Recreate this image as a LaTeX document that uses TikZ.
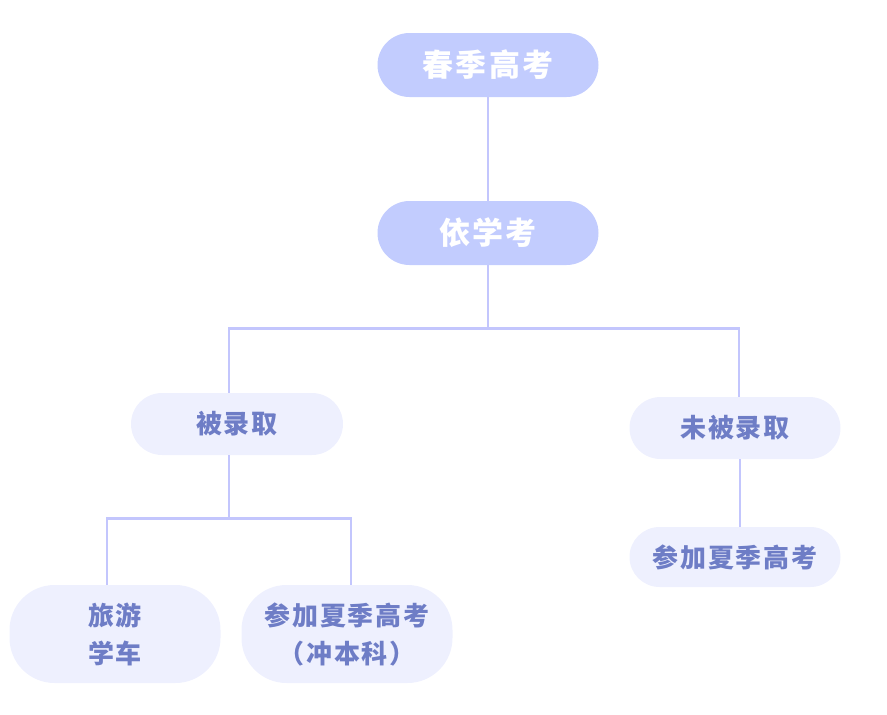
\documentclass[tikz,border=0pt]{standalone}
\usepackage{fontspec}
\usepackage{xcolor}
\usepackage{tikz}
\usetikzlibrary{calc,positioning}
\newfontfamily\cjk[LetterSpace=7]{Noto Sans CJK SC}
\definecolor{topfill}{HTML}{C2CCFE}
\definecolor{subfill}{HTML}{EEF0FE}
\definecolor{subtext}{HTML}{6E7DC6}
\definecolor{linkcol}{HTML}{C3C6FD}

\begin{document}
\begin{tikzpicture}[x=1pt,y=-1pt,
  topbox/.style={fill=topfill, text=white, rounded corners=32pt,
    minimum width=221pt, minimum height=64pt, inner sep=0pt,
    font=\cjk\bfseries\fontsize{31}{34}\selectfont},
  subbox/.style={fill=subfill, text=subtext, rounded corners=31pt,
    minimum width=212pt, minimum height=62pt, inner sep=0pt, align=center,
    font=\cjk\bfseries\fontsize{26}{38}\selectfont},
  link/.style={draw=linkcol, line width=2.8pt}]
\useasboundingbox (0,0) rectangle (887,715);
% upper chain
\node[topbox] (spring) at (488,65) {春季高考};
\node[topbox] (xuekao) at (488,233) {依学考};
% admitted or not
\node[subbox] (admit) at (237,424) {被录取};
\node[subbox, minimum width=211pt] (noadmit) at (735,428) {未被录取};
\node[subbox, minimum width=211pt, minimum height=60pt, rounded corners=30pt] (summer) at (735,557) {参加夏季高考};
% bottom row
\node[subbox, minimum width=211pt, minimum height=98pt, rounded corners=45pt] (travel) at (115,634) {旅游\\学车};
\node[subbox, minimum width=211pt, minimum height=98pt, rounded corners=45pt] (summerb) at (347,634) {参加夏季高考\\（冲本科）};
% connectors
\draw[link] (spring) -- (xuekao);
\draw[link] (xuekao.south) -- ++(0,63) coordinate (fork);
\draw[link] (fork) -| ([xshift=-8pt]admit.north);
\draw[link] (fork) -| ([xshift=4pt]noadmit.north);
\draw[link] ([xshift=5pt]noadmit.south) -- ([xshift=5pt]summer.north);
\draw[link] ([xshift=-8pt]admit.south) -- ++(0,63) coordinate (forkb);
\draw[link] (forkb) -| ([xshift=-8pt]travel.north);
\draw[link] (forkb) -| ([xshift=4pt]summerb.north);
\end{tikzpicture}
\end{document}
